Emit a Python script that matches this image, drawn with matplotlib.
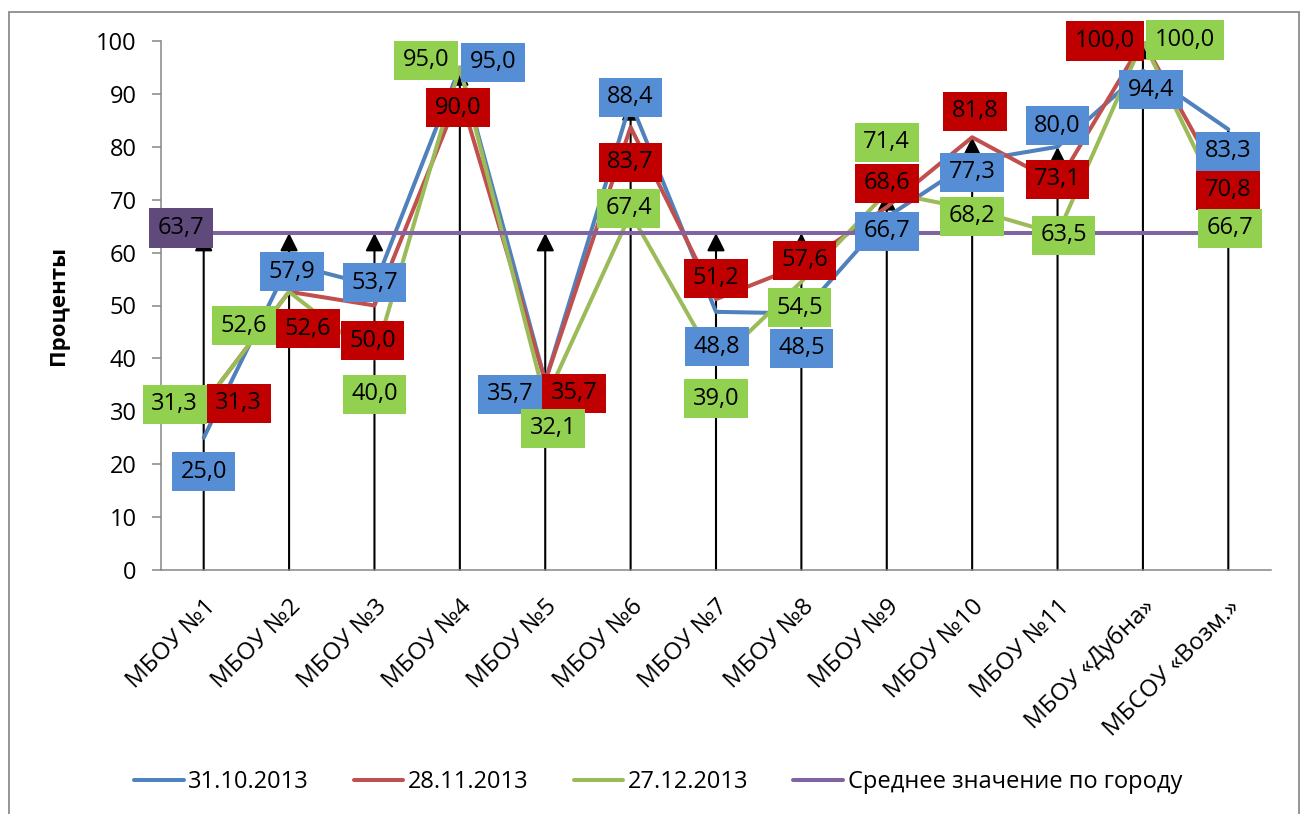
import matplotlib
matplotlib.use('Agg')
import matplotlib.pyplot as plt
from matplotlib.path import Path
from matplotlib.patches import Rectangle
import matplotlib.transforms as mtransforms

plt.rcParams['font.family'] = ['Open Sans', 'DejaVu Sans']

# ---------------- data ----------------
categories = ['МБОУ №1', 'МБОУ №2', 'МБОУ №3', 'МБОУ №4', 'МБОУ №5', 'МБОУ №6',
              'МБОУ №7', 'МБОУ №8', 'МБОУ №9', 'МБОУ №10', 'МБОУ №11',
              'МБОУ «Дубна»', 'МБСОУ «Возм.»']
oct31 = [25.0, 57.9, 53.7, 95.0, 35.7, 88.4, 48.8, 48.5, 66.7, 77.3, 80.0, 94.4, 83.3]
nov28 = [31.3, 52.6, 50.0, 90.0, 35.7, 83.7, 51.2, 57.6, 68.6, 81.8, 73.1, 100.0, 70.8]
dec27 = [31.3, 52.6, 40.0, 95.0, 32.1, 67.4, 39.0, 54.5, 71.4, 68.2, 63.5, 100.0, 66.7]
city_avg = [63.7] * 13
series_names = ['31.10.2013', '28.11.2013', '27.12.2013', 'Среднее значение по городу']
y_ticks = [0, 10, 20, 30, 40, 50, 60, 70, 80, 90, 100]

# ---------------- styles / layout ----------------
line_colors = ['#4F81BD', '#C0504D', '#9BBB59', '#8064A2']
box_colors = ['#558ED5', '#C00000', '#92D050', '#604A7B']

# label offsets in pixels (dx right, dy down) relative to the data point
label_offsets = {
    0: [(0, 34), (3, 8), (0, -3), (33, -5), (-35, 13), (0, -5), (1, 35), (0, 35),
        (0, 14), (0, 11), (0, -21), (8, 19), (0, 22)],
    1: [(35, -1), (19, 37), (-2, 35), (-2, 14), (29, 12), (0, 35), (0, -21), (3, -5),
        (0, -24), (3, -26), (0, -4), (-38, 0), (0, -5)],
    2: [(-29, 0), (-45, 34), (0, 36), (-34, -7), (8, 28), (-2, -5), (0, 35), (-2, 26),
        (0, -50), (0, 7), (6, 1), (42, -1), (2, 11)],
}
avg_label_offset = (-23, -5)

W, H = 1303, 814
fig = plt.figure(figsize=(W / 100, H / 100), dpi=100)

# outer chart border
border = Rectangle((9 / W, -0.02), (1299 - 9) / W, 1 - 12 / H + 0.02,
                   transform=fig.transFigure, fill=False, ec='#8C8C8C', lw=1.3)
fig.patches.append(border)

ax = fig.add_axes([161 / W, 1 - 570 / H, 1110 / W, 529 / H])
x = list(range(len(categories)))
all_series = [oct31, nov28, dec27, city_avg]

# drop lines with arrows from 0 to the highest value of each category
for i in x:
    top = max(s[i] for s in all_series)
    ax.annotate('', xy=(i, top), xytext=(i, 0),
                arrowprops=dict(arrowstyle='-|>,head_length=0.6,head_width=0.3',
                                mutation_scale=18, lw=1.5, color='black',
                                shrinkA=0, shrinkB=0),
                zorder=1)

for k, (vals, name) in enumerate(zip(all_series, series_names)):
    ax.plot(x, vals, color=line_colors[k], lw=2.9, label=name,
            solid_joinstyle='round', solid_capstyle='round', zorder=2 + k)


def label_box(x0, y0, width, height, mutation_size):
    px = 0.36 * mutation_size
    py = 0.32 * mutation_size
    verts = [(x0 - px, y0 - py), (x0 + width + px, y0 - py),
             (x0 + width + px, y0 + height + py), (x0 - px, y0 + height + py),
             (x0 - px, y0 - py)]
    return Path(verts, closed=True)


def fmt(v):
    return f'{v:.1f}'.replace('.', ',')


for k in range(3):
    vals = all_series[k]
    for i in x:
        dx, dy = label_offsets[k][i]
        ax.annotate(fmt(vals[i]), xy=(i, vals[i]), xytext=(dx, -dy),
                    textcoords='offset pixels', ha='center', va='center',
                    fontsize=17, color='black', zorder=10,
                    bbox=dict(boxstyle=label_box, fc=box_colors[k], ec='none'))

ax.annotate(fmt(city_avg[0]), xy=(0, city_avg[0]),
            xytext=(avg_label_offset[0], -avg_label_offset[1]),
            textcoords='offset pixels', ha='center', va='center',
            fontsize=17, color='black', zorder=10,
            bbox=dict(boxstyle=label_box, fc=box_colors[3], ec='none'))

ax.set_xlim(-0.5, len(categories) - 0.5)
ax.set_ylim(0, 100)
ax.set_yticks(y_ticks)
ax.set_yticklabels([str(t) for t in y_ticks])
ax.set_xticks(x)
ax.set_xticklabels(categories, rotation=45, ha='right', va='top',
                   rotation_mode='anchor', fontsize=17.5)
offset = mtransforms.ScaledTranslation(0.05, 0, fig.dpi_scale_trans)
for lab in ax.get_xticklabels():
    lab.set_transform(lab.get_transform() + offset)

for s in ['top', 'right']:
    ax.spines[s].set_visible(False)
for s in ['left', 'bottom']:
    ax.spines[s].set_color('#868686')
    ax.spines[s].set_linewidth(1.1)
ax.tick_params(axis='y', direction='out', length=6.5, width=1.1, color='#868686',
               labelsize=17, pad=11)
ax.tick_params(axis='x', length=0, pad=18)

ax.set_ylabel('Проценты', fontsize=16, fontweight='bold')
ax.yaxis.set_label_coords((69 - 161) / 1110, 0.5)

leg = fig.legend(loc='center', bbox_to_anchor=(0.505, 1 - 782 / H), ncol=4,
                 frameon=False, fontsize=17, handlelength=2.1, handletextpad=0.2,
                 columnspacing=1.9)
for h in leg.get_lines():
    h.set_solid_capstyle('round')

fig.savefig('out.png', dpi=100)
